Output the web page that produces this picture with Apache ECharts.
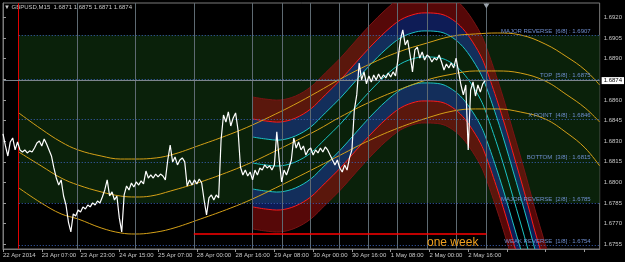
<!DOCTYPE html>
<html><head><meta charset="utf-8">
<script src="https://cdn.jsdelivr.net/npm/echarts@6/dist/echarts.min.js"></script>
<style>html,body{margin:0;padding:0;background:#000;}#c{width:625px;height:262px;}</style>
</head><body><div id="c"></div>
<script>
// ---- data ----
const timeLabels = ['22 Apr 2014','23 Apr 07:00','23 Apr 23:00','24 Apr 15:00','25 Apr 07:00','28 Apr 00:00','28 Apr 16:00','29 Apr 08:00','30 Apr 00:00','30 Apr 16:00','1 May 08:00','2 May 00:00','2 May 16:00'];
const barsPerLabel = 64;
const priceStep = 4; // M15 bars between samples
const priceValues = [
1.68352,1.68265,1.68192,1.68294,1.68323,1.68236,1.68294,1.68236,1.68221,1.68236,
1.68214,1.68229,1.68221,1.68250,1.68287,1.68301,1.68265,1.68316,1.68279,1.68236,
1.68192,1.68105,1.68032,1.67981,1.68018,1.67901,1.67836,1.67712,1.67640,1.67771,
1.67756,1.67800,1.67785,1.67822,1.67807,1.67836,1.67822,1.67851,1.67836,1.67865,
1.67851,1.67894,1.67945,1.68018,1.67901,1.67931,1.67872,1.67901,1.67742,1.67640,
1.67909,1.67974,1.67945,1.67996,1.67967,1.68003,1.67981,1.68011,1.67989,1.68083,
1.68032,1.68054,1.68032,1.68061,1.68040,1.68061,1.68047,1.68018,1.68163,1.68272,
1.68149,1.68185,1.68127,1.68163,1.68178,1.68149,1.67974,1.68018,1.67981,1.68018,
1.67989,1.68025,1.67996,1.67872,1.67763,1.67887,1.67909,1.67872,1.67909,1.67887,
1.68308,1.68490,1.68439,1.68512,1.68410,1.68468,1.68505,1.68381,1.68112,1.68054,
1.68090,1.68047,1.68076,1.68018,1.68090,1.68054,1.68105,1.68090,1.68127,1.68105,
1.68120,1.68090,1.68127,1.68367,1.68163,1.68003,1.68090,1.68054,1.68105,1.68163,
1.68323,1.68250,1.68294,1.68236,1.68265,1.68199,1.68236,1.68250,1.68199,1.68236,
1.68214,1.68250,1.68221,1.68258,1.68236,1.68199,1.68163,1.68127,1.68163,1.68105,
1.68076,1.68127,1.68090,1.68178,1.68236,1.68527,1.68636,1.68868,1.68745,1.68803,
1.68716,1.68774,1.68730,1.68781,1.68745,1.68788,1.68752,1.68781,1.68759,1.68795,
1.68766,1.68803,1.68774,1.68890,1.69035,1.69108,1.68999,1.69035,1.68926,1.68803,
1.68963,1.68984,1.68904,1.68948,1.68890,1.68926,1.68912,1.68875,1.68904,1.68890,
1.68926,1.68875,1.68817,1.68861,1.68832,1.68868,1.68832,1.68904,1.68803,1.68708,
1.68636,1.68708,1.68236,1.68672,1.68730,1.68628,1.68708,1.68657,1.68716,1.68740
];
// yellow regression arcs
const arcX = [26,63,96,124,162,194,219,244,277,326,376,412,450,480,519,557,606,653,700,743,780,816,854,895,931,961,985];
const arcTop = [1.68505,1.68388,1.68294,1.68236,1.68192,1.68170,1.68170,1.68174,1.68199,1.68272,1.68352,1.68418,1.68497,1.68563,1.68657,1.68752,1.68861,1.68948,1.69013,1.69064,1.69079,1.69086,1.69072,1.69006,1.68912,1.68817,1.68708];
const arcMid = [1.68221,1.68120,1.68032,1.67981,1.67931,1.67901,1.67894,1.67901,1.67938,1.68003,1.68083,1.68149,1.68229,1.68294,1.68381,1.68476,1.68585,1.68672,1.68745,1.68788,1.68810,1.68810,1.68795,1.68737,1.68636,1.68541,1.68439];
const arcLow = [1.67960,1.67851,1.67771,1.67734,1.67669,1.67633,1.67625,1.67633,1.67662,1.67734,1.67814,1.67880,1.67960,1.68025,1.68112,1.68199,1.68308,1.68396,1.68468,1.68519,1.68534,1.68534,1.68512,1.68461,1.68359,1.68250,1.68120];
// channel (bands)
const chanX = [412,433,458,483,508,532,557,582,606,631,656,681,700,722,738,755,771,788,799,816,829,841,854,867,878,895,911];
const chanCenter = [1.68141,1.68127,1.68120,1.68149,1.68214,1.68316,1.68425,1.68548,1.68665,1.68774,1.68861,1.68904,1.68912,1.68904,1.68875,1.68817,1.68730,1.68606,1.68490,1.68272,1.68090,1.67909,1.67712,1.67509,1.67327,1.67073,1.66819];
const chanUpOuter = [1.68621,1.68606,1.68599,1.68628,1.68694,1.68795,1.68904,1.69028,1.69144,1.69253,1.69341,1.69384,1.69391,1.69384,1.69355,1.69297,1.69210,1.69086,1.68970,1.68752,1.68570,1.68388,1.68192,1.67989,1.67807,1.67553,1.67298];
const chanUpRed = [1.68461,1.68447,1.68439,1.68468,1.68534,1.68636,1.68745,1.68868,1.68984,1.69093,1.69181,1.69224,1.69232,1.69224,1.69195,1.69137,1.69050,1.68926,1.68810,1.68592,1.68410,1.68229,1.68032,1.67829,1.67647,1.67393,1.67138];
const chanUpCyan = [1.68330,1.68316,1.68308,1.68338,1.68403,1.68505,1.68614,1.68737,1.68854,1.68963,1.69050,1.69093,1.69101,1.69093,1.69064,1.69006,1.68919,1.68795,1.68679,1.68461,1.68279,1.68098,1.67901,1.67698,1.67516,1.67262,1.67008];
const chanLoCyan = [1.67952,1.67938,1.67931,1.67960,1.68025,1.68127,1.68236,1.68359,1.68476,1.68585,1.68672,1.68716,1.68723,1.68716,1.68686,1.68628,1.68541,1.68418,1.68301,1.68083,1.67901,1.67720,1.67524,1.67320,1.67138,1.66884,1.66630];
const chanLoRed = [1.67822,1.67807,1.67800,1.67829,1.67894,1.67996,1.68105,1.68229,1.68345,1.68454,1.68541,1.68585,1.68592,1.68585,1.68556,1.68497,1.68410,1.68287,1.68170,1.67952,1.67771,1.67589,1.67393,1.67189,1.67008,1.66753,1.66499];
const chanLoOuter = [1.67662,1.67647,1.67640,1.67669,1.67734,1.67836,1.67945,1.68069,1.68185,1.68294,1.68381,1.68425,1.68432,1.68425,1.68396,1.68338,1.68250,1.68127,1.68011,1.67792,1.67611,1.67429,1.67233,1.67029,1.66848,1.66593,1.66339];
// Murrey-style levels
const levelValues = [1.6907,1.6875,1.6846,1.6815,1.6785,1.6754];
const levelNames = ['MAJOR REVERSE  [6/8]','TOP  [5/8]','X POINT  [4/8]','BOTTOM  [3/8]','MAJOR REVERSE  [2/8]','WEAK REVERSE  [1/8]'];
const gridBars = [122,219,315,412,461,508,555,603,651,700,748,798];
const startBar = 26;
const weekBars = [315,798];
const weekLevel = 1.6763;
const bidPrice = 1.6874;
const yLabelValues = [1.6755,1.6770,1.6785,1.6800,1.6815,1.6830,1.6845,1.6860,1.6890,1.6905,1.6920];
const yTickValues = [1.6755,1.6770,1.6785,1.6800,1.6815,1.6830,1.6845,1.6860,1.6875,1.6890,1.6905,1.6920];
const titleText = '\u25BC GBPUSD,M15  1.6871 1.6875 1.6871 1.6874';

// ---- chart ----
const X_MAX = 985, Y_MIN = 1.67516, Y_MAX = 1.69304;
const FONT = 'Liberation Sans';
const xy = (xs, ys) => xs.map((x, i) => [x, ys[i]]);
const arc = (data) => ({ type: 'line', data, smooth: 0.4, symbol: 'none', silent: true, z: 4,
  lineStyle: { color: '#d4a017', width: 1 } });

const RED_FILL = 'rgba(165,16,16,0.52)', BLUE_FILL = 'rgba(32,62,190,0.45)';

// Catmull-Rom spline through pixel points -> path segments
function splineSeg(pts) {
  let d = '';
  for (let i = 0; i < pts.length - 1; i++) {
    const p0 = pts[i - 1] || pts[i], p1 = pts[i], p2 = pts[i + 1], p3 = pts[i + 2] || pts[i + 1];
    d += ' C' + (p1[0] + (p2[0] - p0[0]) / 6) + ',' + (p1[1] + (p2[1] - p0[1]) / 6) + ' ' +
         (p2[0] - (p3[0] - p1[0]) / 6) + ',' + (p2[1] - (p3[1] - p1[1]) / 6) + ' ' + p2[0] + ',' + p2[1];
  }
  return d;
}
function channelRender(params, api) {
  const cs = params.coordSys;
  const P = arr => chanX.map((x, i) => api.coord([x, arr[i]]));
  const band = (a, b, fill) => {
    const top = P(a), bot = P(b).reverse();
    return { type: 'path', shape: { pathData: 'M' + top[0][0] + ',' + top[0][1] + splineSeg(top) +
      ' L' + bot[0][0] + ',' + bot[0][1] + splineSeg(bot) + ' Z' }, style: { fill: fill, stroke: null } };
  };
  const curve = (a, color, w) => {
    const p = P(a);
    return { type: 'path', shape: { pathData: 'M' + p[0][0] + ',' + p[0][1] + splineSeg(p) },
      style: { fill: null, stroke: color, lineWidth: w } };
  };
  return { type: 'group', clipPath: { type: 'rect', shape: { x: cs.x, y: cs.y, width: cs.width, height: cs.height } },
    children: [
      band(chanUpOuter, chanUpRed, RED_FILL),
      band(chanUpRed, chanUpCyan, BLUE_FILL),
      band(chanLoCyan, chanLoRed, BLUE_FILL),
      band(chanLoRed, chanLoOuter, RED_FILL),
      curve(chanUpOuter, '#7a1414', 1), curve(chanLoOuter, '#7a1414', 1),
      curve(chanUpRed, '#ff1a1a', 1), curve(chanLoRed, '#ff1a1a', 1),
      curve(chanUpCyan, '#1cc4c4', 1), curve(chanLoCyan, '#1cc4c4', 1), curve(chanCenter, '#1cc4c4', 1)
    ] };
}

const chart = echarts.init(document.getElementById('c'), null, { renderer: 'canvas' });
const series = [
  { type: 'line', data: [], z: 1, silent: true,
    markArea: { silent: true, itemStyle: { color: '#0a210a' },
      data: [[{ xAxis: startBar, yAxis: levelValues[4] }, { xAxis: X_MAX, yAxis: levelValues[0] }]] },
    markLine: { silent: true, symbol: 'none', label: { show: false },
      data: gridBars.map(b => ({ xAxis: b, lineStyle: { color: '#5e6a72', width: 1, type: 'solid' } }))
        .concat([{ xAxis: startBar, lineStyle: { color: '#e00000', width: 1, type: 'solid' } }]) } },
  { type: 'custom', data: [0], z: 3, silent: true, renderItem: channelRender },
  arc(xy(arcX, arcTop)),
  arc(xy(arcX, arcMid)),
  arc(xy(arcX, arcLow)),
  // levels + bid line
  { type: 'line', data: [], z: 5, silent: true,
    markLine: { silent: true, symbol: 'none',
      lineStyle: { color: '#3b63b8', width: 1, type: [1, 2] },
      label: { show: true, position: 'insideEndTop', formatter: '{b}', color: '#6f8fd0', fontSize: 6, fontFamily: FONT, distance: [9, 1] },
      data: levelValues.map((v, i) => [{ name: levelNames[i] + ' : ' + v.toFixed(4), coord: [startBar, v] }, { coord: [X_MAX, v] }])
        .concat([[{ name: bidPrice.toFixed(4), coord: [0, bidPrice],
                    lineStyle: { color: '#7c848c', width: 1, type: 'solid' },
                    label: { position: 'end', color: '#000', backgroundColor: '#ffffff', fontSize: 6, fontFamily: FONT, padding: [1, 2, 0, 2], distance: 2 } },
                  { coord: [X_MAX, bidPrice] }]]) } },
  // price
  { type: 'line', data: priceValues.map((v, i) => [i * priceStep, v]), symbol: 'none', silent: true, z: 8,
    lineStyle: { color: '#ffffff', width: 1.2 },
    markPoint: { silent: true, symbol: 'triangle', symbolRotate: 180, symbolSize: [6, 5], symbolOffset: [0, 3],
      itemStyle: { color: '#9aa2aa' }, label: { show: false },
      data: [{ coord: [weekBars[1], Y_MAX] }] },
    markLine: { silent: true, symbol: 'none',
      data: [[{ name: 'one week', coord: [weekBars[0], weekLevel] }, { coord: [weekBars[1], weekLevel] }]],
      lineStyle: { color: '#ff0000', width: 1.6, type: 'solid' },
      label: { show: true, formatter: '{b}', position: 'insideEndBottom', color: '#f0a020', fontSize: 12, fontFamily: FONT, distance: [8, 3] } } }
];

chart.setOption({
  backgroundColor: '#000000',
  animation: false,
  grid: { left: 2, right: 25, top: 3, bottom: 13, show: true, borderColor: '#7a7a7a', borderWidth: 1, backgroundColor: '#000' },
  xAxis: { type: 'value', min: 0, max: X_MAX, interval: barsPerLabel,
    axisLine: { show: true, lineStyle: { color: '#7a7a7a' } },
    axisTick: { show: true, length: 3, lineStyle: { color: '#9a9a9a' } },
    splitLine: { show: false },
    axisLabel: { align: 'left', margin: 3, color: '#c8c8c8', fontSize: 6, fontFamily: FONT, showMaxLabel: false,
      formatter: v => timeLabels[Math.round(v / barsPerLabel)] || '' } },
  yAxis: { type: 'value', position: 'right', min: Y_MIN, max: Y_MAX, scale: true,
    axisLine: { show: true, lineStyle: { color: '#7a7a7a' } },
    axisTick: { show: true, length: 3, customValues: yTickValues, lineStyle: { color: '#9a9a9a' } },
    splitLine: { show: false },
    axisLabel: { customValues: yLabelValues, margin: 4, color: '#c8c8c8', fontSize: 6, fontFamily: FONT,
      formatter: v => v.toFixed(4) } },
  graphic: [{ type: 'text', left: 4, top: 4, silent: true,
    style: { text: titleText, fill: '#c8c8c8', font: '6px ' + FONT } }],
  series
});
</script></body></html>
